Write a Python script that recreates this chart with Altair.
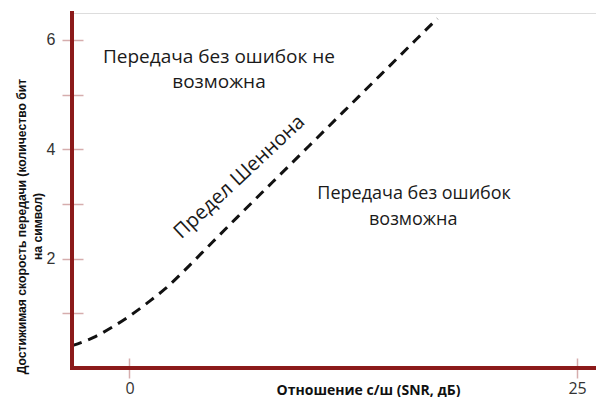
import altair as alt
import pandas as pd

# Shannon limit curve (SNR in dB, bits per symbol)
snr_db = [-3.2, -2.0, -1.0, 0.0, 1.0, 2.0, 3.0, 4.0, 6.0, 8.0, 10.0, 12.0, 14.0, 16.0, 17.2]
rate = [0.41, 0.56, 0.74, 0.95, 1.19, 1.45, 1.76, 2.09, 2.75, 3.40, 4.05, 4.70, 5.35, 6.00, 6.39]

# annotations
ann_text = ["Передача без ошибок не", "возможна", "Передача без ошибок", "возможна"]
ann_x = [5.0, 5.0, 15.9, 15.85]
ann_y = [5.69, 5.23, 3.19, 2.70]
ann_size = [19, 19, 18, 18]

curve_label = ["Предел Шеннона"]
curve_label_x = [6.15]
curve_label_y = [3.49]

y_ticks = [1, 2, 3, 4, 5, 6]
x_ticks = [0, 25]

X_DOMAIN = [-3.21, 26.06]
Y_DOMAIN = [0, 6.49]
W, H = 524, 355

AXIS_RED = "#8b1a1a"
TICK_PINK = "#d6adad"

curve_df = pd.DataFrame({"snr": snr_db, "rate": rate})
ann_df = pd.DataFrame({"t": ann_text, "snr": ann_x, "rate": ann_y, "s": ann_size})
lab_df = pd.DataFrame({"t": curve_label, "snr": curve_label_x, "rate": curve_label_y})

xs = alt.Scale(domain=X_DOMAIN, nice=False, zero=False)
ys = alt.Scale(domain=Y_DOMAIN, nice=False, zero=False)

x_axis = alt.Axis(
    values=x_ticks, domain=False, grid=False, offset=-10, tickSize=20,
    tickColor=TICK_PINK, tickWidth=1.5, labelPadding=2, labelFont="Open Sans",
    labelFontSize=16, labelColor="#333333",
    title="Отношение с/ш (SNR, дБ)", titleFont="Open Sans", titleFontSize=14,
    titleFontWeight="bold", titleColor="#111111", titleX=296, titleY=32,
    titleBaseline="middle", titleAnchor="middle",
)
y_axis = alt.Axis(
    values=y_ticks, domain=False, grid=False, offset=-11, tickSize=21,
    tickColor=TICK_PINK, tickWidth=1.5, labelPadding=7, labelFont="Liberation Sans",
    labelFontSize=16, labelColor="#333333",
    labelExpr="datum.value % 2 == 0 ? datum.label : ''",
    title=["Достижимая скорость передачи (количество бит", "на символ)"],
    titleFont="Liberation Sans", titleFontSize=12.2, titleFontWeight="bold",
    titleColor="#111111", titleLineHeight=16, titleX=-62, titleY=213,
    titleBaseline="middle", titleAlign="center", titleAngle=270,
)

base = alt.Chart(curve_df)

curve = base.mark_line(
    color="#111111", strokeWidth=3, strokeDash=[10, 7], interpolate="monotone"
).encode(
    x=alt.X("snr:Q", scale=xs, axis=x_axis),
    y=alt.Y("rate:Q", scale=ys, axis=y_axis),
)

y_domain_line = base.mark_rule(color=AXIS_RED, strokeWidth=3, strokeCap="square").encode(
    x=alt.value(0), y=alt.value(0), y2=alt.value(H)
)
x_domain_line = base.mark_rule(color=AXIS_RED, strokeWidth=3, strokeCap="square").encode(
    x=alt.value(0), x2=alt.value(W), y=alt.value(H)
)

ann = alt.Chart(ann_df).mark_text(
    font="Open Sans", color="#1a1a1a", align="center", baseline="middle"
).encode(
    x=alt.X("snr:Q", scale=xs), y=alt.Y("rate:Q", scale=ys), text="t:N",
    size=alt.Size("s:Q", scale=None, legend=None),
)

lab = alt.Chart(lab_df).mark_text(
    font="Open Sans", fontSize=20, color="#1a1a1a", align="center", baseline="middle",
    angle=317,
).encode(x=alt.X("snr:Q", scale=xs), y=alt.Y("rate:Q", scale=ys), text="t:N")

chart = alt.layer(curve, ann, lab, y_domain_line, x_domain_line).properties(
    width=W, height=H,
    autosize=alt.AutoSizeParams(type="none"),
    padding={"left": 64, "top": 5, "right": 0, "bottom": 29},
).configure_view(stroke=None).configure(background="white")

chart.save("out.html", embed_options={"renderer": "svg", "actions": False})
